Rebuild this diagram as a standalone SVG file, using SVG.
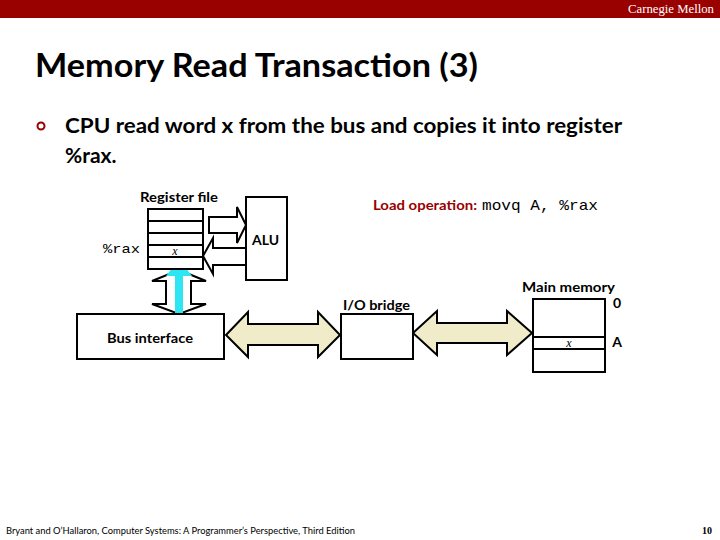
<svg xmlns="http://www.w3.org/2000/svg" width="720" height="540" viewBox="0 0 720 540">
<style>
.t{font-family:Lato,"Open Sans","Liberation Sans",sans-serif;fill:#000}
.b{font-weight:bold}
.m{font-family:"Liberation Mono","DejaVu Sans Mono",monospace;fill:#000}
.box{fill:#fff;stroke:#000;stroke-width:2}
.wa{fill:#fff;stroke:#000;stroke-width:2;stroke-linejoin:miter}
.ya{fill:#F0ECCA;stroke:#000;stroke-width:2}
</style>
<rect x="0" y="0" width="720" height="540" fill="#fff"/>
<rect x="0" y="0" width="720" height="18" fill="#990000"/>
<text x="714" y="13" text-anchor="end" font-family="'Liberation Serif',serif" font-size="12" fill="#fff" textLength="86" lengthAdjust="spacingAndGlyphs">Carnegie Mellon</text>
<text x="35" y="77" class="t b" font-size="32" textLength="443" lengthAdjust="spacingAndGlyphs">Memory Read Transaction (3)</text>
<circle cx="41" cy="126" r="3.5" fill="none" stroke="#990000" stroke-width="2"/>
<text x="65" y="133" class="t b" font-size="21" textLength="557" lengthAdjust="spacingAndGlyphs">CPU read word x from the bus and copies it into register</text>
<text x="65" y="163" class="t b" font-size="21">%rax.</text>

<g id="connectors">
  <path class="wa" d="M209,217 H237 V207 L246,225 L237,243 V233 H209 Z"/>
  <path class="wa" d="M246,248 H213 V238 L203,256 L213,274 V265 H246 Z"/>
  <path class="wa" d="M179,270 L206,281 H191 V304 H206 L179,314 L152,304 H166 V281 H152 Z"/>
  <path class="ya" d="M226,335 L248,312 V324 H318 V312 L340,335 L318,357 V345 H248 V357 Z"/>
  <path class="ya" d="M413,333 L437,311 V323 H507 V311 L532,333 L507,355 V343 H437 V355 Z"/>
  <path d="M175,318 V276 H166 L179,259 L192,276 H183 V318 Z" fill="#2EE6F2"/>
</g>

<g id="register-file">
  <text x="140" y="202" class="t b" font-size="14" textLength="78" lengthAdjust="spacingAndGlyphs">Register file</text>
  <rect class="box" x="148" y="209" width="55" height="60"/>
  <path d="M148,221 H203 M148,233 H203 M148,245 H203 M148,257 H203" stroke="#000" stroke-width="2"/>
  <text x="103" y="253" class="m" font-size="13" textLength="37" lengthAdjust="spacingAndGlyphs">%rax</text>
  <text x="175" y="255" text-anchor="middle" font-family="'Liberation Serif',serif" font-style="italic" font-size="12">x</text>
</g>

<g id="alu">
  <rect class="box" x="246" y="197" width="41" height="83"/>
  <text x="252" y="245" class="t b" font-size="14" textLength="27" lengthAdjust="spacingAndGlyphs">ALU</text>
</g>

<g id="bus-interface">
  <rect class="box" x="77" y="314" width="147" height="45"/>
  <text x="107" y="343" class="t b" font-size="14" textLength="86" lengthAdjust="spacingAndGlyphs">Bus interface</text>
</g>

<g id="io-bridge">
  <text x="343" y="310" class="t b" font-size="14" textLength="67" lengthAdjust="spacingAndGlyphs">I/O bridge</text>
  <rect class="box" x="341" y="314" width="72" height="45"/>
</g>

<g id="main-memory">
  <text x="522" y="292" class="t b" font-size="14" textLength="93" lengthAdjust="spacingAndGlyphs">Main memory</text>
  <rect class="box" x="533" y="299" width="72" height="73"/>
  <path d="M533,337 H605 M533,349 H605" stroke="#000" stroke-width="2"/>
  <text x="569" y="347" text-anchor="middle" font-family="'Liberation Serif',serif" font-style="italic" font-size="12">x</text>
  <text x="617" y="308" text-anchor="middle" class="t b" font-size="14">0</text>
  <text x="617" y="347" text-anchor="middle" class="t b" font-size="14">A</text>
</g>

<g id="load-operation">
  <text x="373" y="210" class="t b" font-size="14" style="fill:#990000" textLength="104" lengthAdjust="spacingAndGlyphs">Load operation:</text>
  <text x="482" y="210" class="m" font-size="15" textLength="116" lengthAdjust="spacingAndGlyphs">movq A, %rax</text>
</g>

<text x="6" y="534" class="t" font-size="9" textLength="349" lengthAdjust="spacingAndGlyphs">Bryant and O’Hallaron, Computer Systems: A Programmer’s Perspective, Third Edition</text>
<text x="712" y="534" text-anchor="end" font-family="'Liberation Serif',serif" font-weight="bold" font-size="10">10</text>
</svg>
